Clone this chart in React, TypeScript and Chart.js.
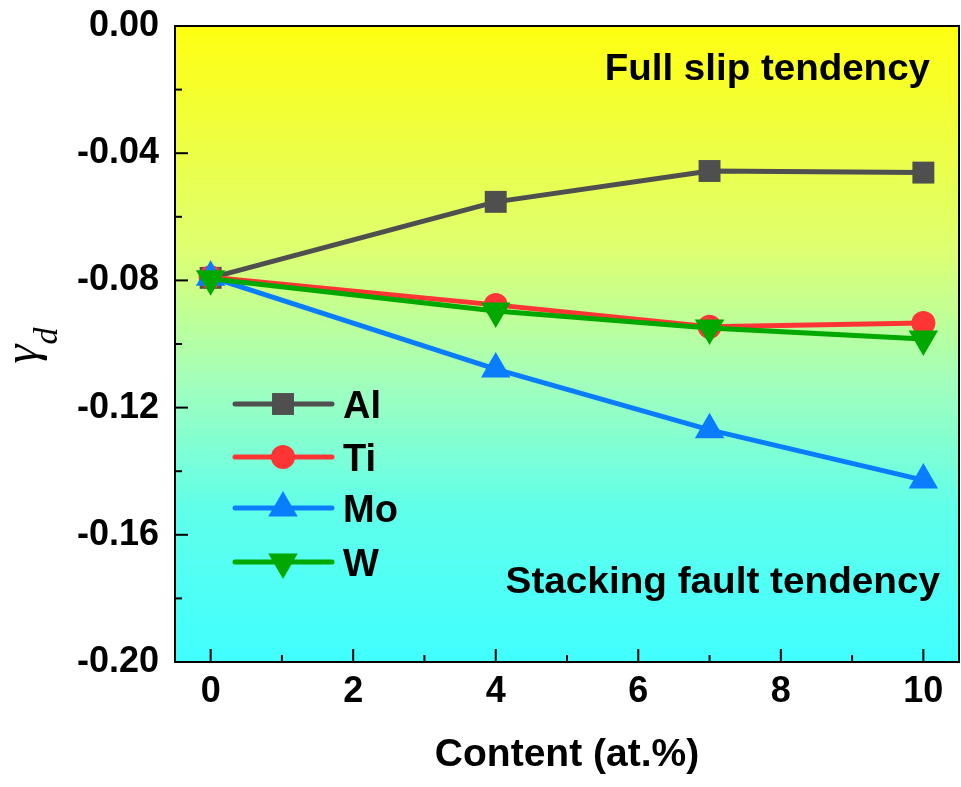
import React, { useEffect, useRef } from 'react';
import { Chart, registerables } from 'chart.js';

Chart.register(...registerables);

// ---- data ----
const contents = [0, 4, 7, 10];
const alValues = [-0.0792, -0.0553, -0.0456, -0.0461];
const tiValues = [-0.0790, -0.0877, -0.0946, -0.0934];
const moValues = [-0.0790, -0.1079, -0.1270, -0.1428];
const wValues = [-0.0795, -0.0896, -0.0950, -0.0984];
const seriesNames = ['Al', 'Ti', 'Mo', 'W'];
const seriesColors = ['#4f4f4f', '#ff3535', '#0a7dff', '#00a800'];
const xTickValues = [0, 2, 4, 6, 8, 10];
const xMinorValues = [1, 3, 5, 7, 9];
const yTickValues = [0, -0.04, -0.08, -0.12, -0.16, -0.2];
const yMinorValues = [-0.02, -0.06, -0.1, -0.14, -0.18];
const xTitle = 'Content (at.%)';
const yTitleMain = 'γ';
const yTitleSub = 'd';
const topNote = 'Full slip tendency';
const bottomNote = 'Stacking fault tendency';

const FONT = '"Liberation Sans", Arial, Helvetica, sans-serif';
const SERIF = '"Liberation Serif", "Times New Roman", serif';

const markerStyles = [
  { style: 'rect', radius: 15.5, rotation: 0 },
  { style: 'circle', radius: 12, rotation: 0 },
  { style: 'triangle', radius: 17, rotation: 0 },
  { style: 'triangle', radius: 17, rotation: 180 },
];

function drawMarker(ctx: CanvasRenderingContext2D, kind: number, cx: number, cy: number, color: string) {
  const m = markerStyles[kind];
  const r = m.radius;
  ctx.save();
  ctx.fillStyle = color;
  ctx.beginPath();
  if (m.style === 'rect') {
    const s = Math.SQRT1_2 * r;
    ctx.rect(cx - s, cy - s, 2 * s, 2 * s);
  } else if (m.style === 'circle') {
    ctx.arc(cx, cy, r, 0, Math.PI * 2);
  } else {
    const dir = m.rotation === 180 ? -1 : 1;
    const hw = r * Math.sin(Math.PI / 3);
    ctx.moveTo(cx, cy - dir * r);
    ctx.lineTo(cx + hw, cy + dir * r / 2);
    ctx.lineTo(cx - hw, cy + dir * r / 2);
    ctx.closePath();
  }
  ctx.fill();
  ctx.restore();
}

function stretchedText(ctx: CanvasRenderingContext2D, text: string, xRight: number, yBase: number, sx: number) {
  ctx.save();
  ctx.translate(xRight, yBase);
  ctx.scale(sx, 1);
  ctx.textAlign = 'right';
  ctx.textBaseline = 'alphabetic';
  ctx.fillText(text, 0, 0);
  ctx.restore();
}

const bgPlugin = {
  id: 'bgGradient',
  beforeDraw(chart: any) {
    const { ctx, chartArea: a } = chart;
    const g = ctx.createLinearGradient(0, a.top, 0, a.bottom);
    g.addColorStop(0, 'rgb(255,255,16)');
    g.addColorStop(0.35, 'rgb(222,255,112)');
    g.addColorStop(0.56, 'rgb(162,255,188)');
    g.addColorStop(0.76, 'rgb(96,255,234)');
    g.addColorStop(1, 'rgb(64,255,255)');
    ctx.save();
    ctx.fillStyle = g;
    ctx.fillRect(a.left, a.top, a.right - a.left, a.bottom - a.top);
    ctx.restore();
  },
};

const decorPlugin = {
  id: 'decor',
  afterDraw(chart: any) {
    const { ctx, chartArea: a } = chart;
    const xs = chart.scales.x;
    const ys = chart.scales.y;
    ctx.save();
    ctx.strokeStyle = '#000';
    ctx.lineWidth = 2;
    const tick = (x1: number, y1: number, x2: number, y2: number) => {
      ctx.beginPath();
      ctx.moveTo(x1, y1);
      ctx.lineTo(x2, y2);
      ctx.stroke();
    };
    yTickValues.forEach((v) => {
      const p = ys.getPixelForValue(v);
      tick(a.left, p, a.left + 13, p);
    });
    yMinorValues.forEach((v) => {
      const p = ys.getPixelForValue(v);
      tick(a.left, p, a.left + 7, p);
    });
    xTickValues.forEach((v) => {
      const p = xs.getPixelForValue(v);
      tick(p, a.bottom, p, a.bottom - 13);
    });
    xMinorValues.forEach((v) => {
      const p = xs.getPixelForValue(v);
      tick(p, a.bottom, p, a.bottom - 7);
    });
    ctx.strokeRect(a.left, a.top, a.right - a.left, a.bottom - a.top);

    // notes
    ctx.fillStyle = '#000';
    ctx.font = `bold 36px ${FONT}`;
    stretchedText(ctx, topNote, a.right - 29, a.top + 54, 1.07);
    stretchedText(ctx, bottomNote, a.right - 19, a.top + 567, 1.075);

    // legend
    const rowY = [404, 457, 508, 562];
    seriesNames.forEach((name, i) => {
      const y = rowY[i];
      ctx.strokeStyle = seriesColors[i];
      ctx.lineWidth = 5;
      ctx.lineCap = 'round';
      ctx.beginPath();
      ctx.moveTo(a.left + 60, y);
      ctx.lineTo(a.left + 157, y);
      ctx.stroke();
      drawMarker(ctx, i, a.left + 108, y, seriesColors[i]);
      ctx.fillStyle = '#000';
      ctx.font = `bold 38px ${FONT}`;
      ctx.textAlign = 'left';
      ctx.textBaseline = 'alphabetic';
      ctx.fillText(name, a.left + 168, y + 14);
    });

    // y axis title: gamma_d rotated
    ctx.save();
    ctx.translate(37, 354);
    ctx.rotate(-Math.PI / 2);
    ctx.fillStyle = '#000';
    ctx.textAlign = 'center';
    ctx.textBaseline = 'alphabetic';
    ctx.font = `italic 48px ${SERIF}`;
    ctx.fillText(yTitleMain, 0, 0);
    ctx.font = `italic 34px ${SERIF}`;
    ctx.fillText(yTitleSub, 18, 20);
    ctx.restore();

    ctx.restore();
  },
};

function makeData(values: number[]) {
  return contents.map((c, i) => ({ x: c, y: values[i] }));
}

export default function App() {
  const ref = useRef<HTMLCanvasElement>(null);
  useEffect(() => {
    const allValues = [alValues, tiValues, moValues, wValues];
    const datasets = seriesNames.map((name, i) => ({
      label: name,
      data: makeData(allValues[i]),
      borderColor: seriesColors[i],
      backgroundColor: seriesColors[i],
      borderWidth: 5,
      pointStyle: markerStyles[i].style,
      pointRadius: markerStyles[i].radius,
      pointRotation: markerStyles[i].rotation,
      pointBorderWidth: 0,
      pointBackgroundColor: seriesColors[i],
      borderJoinStyle: 'round',
      tension: 0,
      order: 4 - i,
    }));
    const chart = new Chart(ref.current as HTMLCanvasElement, {
      type: 'line',
      data: { datasets } as any,
      options: {
        responsive: false,
        animation: false,
        devicePixelRatio: 1,
        layout: { autoPadding: false, padding: { top: 26, right: 2, left: 0, bottom: 0 } },
        plugins: { legend: { display: false }, tooltip: { enabled: false } },
        scales: {
          x: {
            type: 'linear',
            min: -0.5,
            max: 10.5,
            afterBuildTicks: (s: any) => {
              s.ticks = xTickValues.map((v) => ({ value: v }));
            },
            afterFit: (s: any) => {
              s.height = 125;
              s.paddingLeft = 0;
              s.paddingRight = 0;
            },
            grid: { display: false, drawTicks: false },
            border: { display: false },
            ticks: {
              autoSkip: false,
              maxRotation: 0,
              padding: 8,
              color: '#000',
              font: { family: FONT, size: 36, weight: 'bold' },
              callback: (v: any) => String(v),
            },
            title: {
              display: true,
              text: xTitle,
              color: '#000',
              font: { family: FONT, size: 39, weight: 'bold' },
              padding: { top: 0, bottom: 8 },
            },
          },
          y: {
            type: 'linear',
            min: -0.2,
            max: 0,
            afterBuildTicks: (s: any) => {
              s.ticks = yTickValues.map((v) => ({ value: v }));
            },
            afterFit: (s: any) => {
              s.width = 175;
              s.paddingTop = 0;
              s.paddingBottom = 0;
            },
            grid: { display: false, drawTicks: false },
            border: { display: false },
            ticks: {
              padding: 16,
              color: '#000',
              font: { family: FONT, size: 36, weight: 'bold' },
              callback: (v: any) => Number(v).toFixed(2),
            },
          },
        },
      } as any,
      plugins: [bgPlugin, decorPlugin],
    });
    return () => chart.destroy();
  }, []);
  return (
    <div style={{ position: 'absolute', left: 0, top: 0, width: 961, height: 787, background: '#fff' }}>
      <canvas ref={ref} width={961} height={787} style={{ width: 961, height: 787, display: 'block' }} />
    </div>
  );
}
